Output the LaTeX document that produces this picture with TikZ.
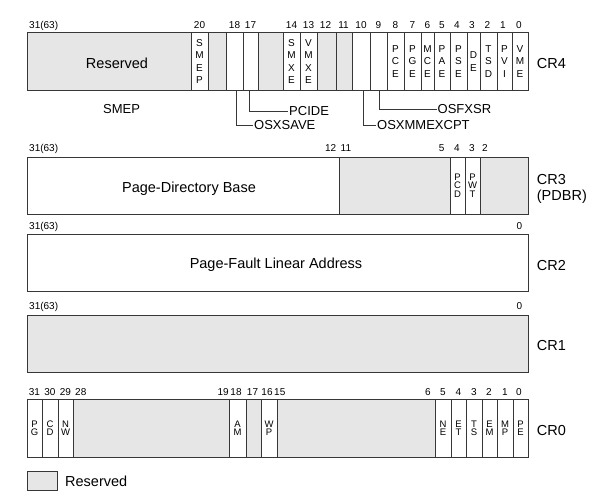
\documentclass[tikz,border=0pt]{standalone}
\usepackage{fontspec}
\setmainfont{Liberation Sans}
\usetikzlibrary{positioning}
\definecolor{resgray}{RGB}{230,230,230}
\definecolor{edgegray}{RGB}{55,55,55}
\tikzset{cell/.style={rectangle,draw=edgegray,line width=0.8pt,inner sep=0pt,outer sep=0pt,align=center}}
\tikzset{bigflag/.style={font=\fontsize{10}{12.3}\selectfont}}
\tikzset{smallflag/.style={font=\fontsize{9.5}{8.4}\selectfont}}
\tikzset{bitno/.style={anchor=base,inner sep=0pt,font=\fontsize{10}{11}\selectfont}}
\tikzset{bigtext/.style={anchor=base,inner sep=0pt,font=\fontsize{14.5}{16}\selectfont}}
\tikzset{regname/.style={anchor=base west,inner sep=0pt,font=\fontsize{14.5}{16}\selectfont}}
\tikzset{anno/.style={anchor=west,inner sep=1pt,font=\fontsize{13}{15}\selectfont}}
\tikzset{leader/.style={draw=edgegray,line width=0.7pt}}

\begin{document}
\begin{tikzpicture}[x=1pt,y=-1pt]
  \useasboundingbox (0,0) rectangle (612,497);

  % CR4
  \foreach \n/\a/\b/\f/\t in {res/27/191/resgray/{},20/191/208/white/{S\\M\\E\\P},
      19/208/226/resgray/{},18/226/243/white/{},17/243/258/white/{},
      16/258/283/resgray/{},14/283/300/white/{S\\M\\X\\E},13/300/317/white/{V\\M\\X\\E},
      12/317/336/resgray/{},11/336/352/resgray/{},10/352/370/white/{},9/370/387/white/{},
      8/387/404/white/{P\\C\\E},7/404/421/white/{P\\G\\E},6/421/434/white/{M\\C\\E},
      5/434/450/white/{P\\A\\E},4/450/467/white/{P\\S\\E},3/467/480/white/{D\\E},
      2/480/497/white/{T\\S\\D},1/497/512/white/{P\\V\\I},0/512/528/white/{V\\M\\E}}
  {
    \pgfmathsetmacro\w{\b-\a}
    \node [cell,bigflag,fill=\f,minimum width=\w pt,minimum height=58pt] (cr4-\n) at ({(\a+\b)/2},61.5) {\t};
  }
  \node [bitno,anchor=base west] (cr4n-top) at (29,28.3) {31(63)};
  \foreach \t/\x in {20/199.5,18/234.5,17/250.5,14/291.5,13/308.5,12/325.5,11/343.5,10/361,
      9/378.5,8/395.5,7/412.5,6/427.5,5/442,4/457,3/472,2/487.5,1/503,0/519}
    \node [bitno] (cr4n-\t) at (\x,28.3) {\t};
  \node [bigtext] (cr4-restext) at (117,68.3) {Reserved};
  \node [regname] (cr4-name) at (536.7,68.3) {CR4};

  \node [anno] (smep) at (102,109.5) {SMEP};
  \node [anno] (pcide) at (288,111) {PCIDE};
  \node [anno] (osxsave) at (253,125) {OSXSAVE};
  \node [anno] (osxmmexcpt) at (376,125) {OSXMMEXCPT};
  \node [anno] (osfxsr) at (436.5,109) {OSFXSR};
  \draw [leader] ([xshift=1.5pt]cr4-18.south) |- (osxsave.west);
  \draw [leader] ([xshift=-1pt]cr4-17.south) |- (pcide.west);
  \draw [leader] ([xshift=2pt]cr4-10.south) |- (osxmmexcpt.west);
  \draw [leader] ([xshift=0.5pt]cr4-9.south) |- (osfxsr.west);

  % CR3
  \foreach \n/\a/\b/\f/\t in {pdb/27/339/white/{},11/339/450/resgray/{},
      4/450/465/white/{P\\C\\D},3/465/480/white/{P\\W\\T},2/480/528/resgray/{}}
  {
    \pgfmathsetmacro\w{\b-\a}
    \node [cell,smallflag,fill=\f,minimum width=\w pt,minimum height=57pt] (cr3-\n) at ({(\a+\b)/2},185.5) {\t};
  }
  \node [bitno,anchor=base west] (cr3n-top) at (29,151.5) {31(63)};
  \node [bitno,anchor=base east] (cr3n-12) at (336.5,151.5) {12};
  \node [bitno,anchor=base west] (cr3n-11) at (340.5,151.5) {11};
  \foreach \t/\x in {5/441.7,4/457,3/472,2/485}
    \node [bitno] (cr3n-\t) at (\x,151.5) {\t};
  \node [bigtext] (cr3-text) at (189,192.5) {Page-Directory Base};
  \node [regname,anchor=west,align=left] (cr3-name) at (536.7,188.5) {CR3\\(PDBR)};

  % CR2
  \node [cell,minimum width=501pt,minimum height=57pt] (cr2) at (277.5,263.2) {};
  \node [bitno,anchor=base west] (cr2n-top) at (29,229.5) {31(63)};
  \node [bitno] (cr2n-0) at (519.3,229.5) {0};
  \node [bigtext] (cr2-text) at (276,268.5) {Page-Fault Linear Address};
  \node [regname] (cr2-name) at (536.7,270) {CR2};

  % CR1
  \node [cell,fill=resgray,minimum width=501pt,minimum height=57pt] (cr1) at (277.5,343.5) {};
  \node [bitno,anchor=base west] (cr1n-top) at (29,309.5) {31(63)};
  \node [bitno] (cr1n-0) at (519.3,309.5) {0};
  \node [regname] (cr1-name) at (536.7,350) {CR1};

  % CR0
  \foreach \n/\a/\b/\f/\t in {31/27/42/white/{P\\G},30/42/58/white/{C\\D},29/58/73/white/{N\\W},
      28/73/229/resgray/{},18/229/246/white/{A\\M},17/246/261/resgray/{},16/261/277/white/{W\\P},
      15/277/435/resgray/{},5/435/451/white/{N\\E},4/451/466/white/{E\\T},3/466/482/white/{T\\S},
      2/482/497/white/{E\\M},1/497/513/white/{M\\P},0/513/528/white/{P\\E}}
  {
    \pgfmathsetmacro\w{\b-\a}
    \node [cell,smallflag,fill=\f,minimum width=\w pt,minimum height=58pt] (cr0-\n) at ({(\a+\b)/2},428) {\t};
  }
  \foreach \t/\x in {31/34.5,30/50,29/65.5,18/236,17/252.5,16/267,5/443,4/458.5,3/474,2/489,1/505,0/519}
    \node [bitno] (cr0n-\t) at (\x,395.5) {\t};
  \node [bitno,anchor=base west] (cr0n-28) at (75,395.5) {28};
  \node [bitno,anchor=base east] (cr0n-19) at (229,395.5) {19};
  \node [bitno,anchor=base west] (cr0n-15) at (274,395.5) {15};
  \node [bitno,anchor=base east] (cr0n-6) at (431,395.5) {6};
  \node [regname] (cr0-name) at (536.7,435) {CR0};

  % legend
  \node [cell,fill=resgray,minimum width=30pt,minimum height=19pt] (legend) at (42,480.5) {};
  \node [regname] (legend-text) at (65,486) {Reserved};
\end{tikzpicture}
\end{document}
